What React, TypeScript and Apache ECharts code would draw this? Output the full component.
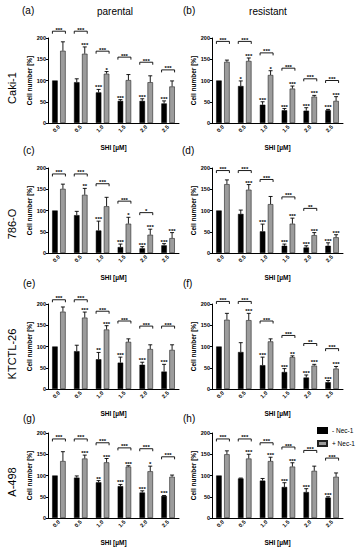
import React, { useEffect, useRef } from "react";
import * as echarts from "echarts";

const doses = ["0.0", "0.5", "1.0", "1.5", "2.0", "2.5"];
const yTickStep = 50;
const yMax = 200;
const seriesNames = ["- Nec-1", "+ Nec-1"];
const columnTitles = ["parental", "resistant"];
const rowTitles = ["Caki-1", "786-O", "KTCTL-26", "A-498"];
const panelLetters = ["(a)", "(b)", "(c)", "(d)", "(e)", "(f)", "(g)", "(h)"];

// (a) Caki-1 parental
const aMinus = [100, 96, 72, 52, 52, 46];
const aMinusErr = [100, 104, 79, 55, 57, 52];
const aPlus = [170, 163, 116, 101, 96, 86];
const aPlusErr = [191, 179, 121, 114, 111, 99];
const aMinusStars = ["", "", "***", "***", "***", "***"];
const aPlusStars = ["", "***", "*", "", "", ""];
const aBracket = [216, 216, 169, 155, 143, 125];
const aBracketStars = ["***", "***", "***", "***", "***", "***"];

// (b) Caki-1 resistant
const bMinus = [100, 87, 43, 30, 29, 30];
const bMinusErr = [100, 99, 50, 34, 36, 32];
const bPlus = [144, 146, 113, 81, 62, 52];
const bPlusErr = [148, 153, 123, 87, 65, 62];
const bMinusStars = ["", "*", "***", "***", "***", "***"];
const bPlusStars = ["", "***", "*", "***", "***", "***"];
const bBracket = [192, 192, 165, 129, 104, 100];
const bBracketStars = ["***", "***", "***", "***", "***", "***"];

// (c) 786-O parental
const cMinus = [100, 89, 53, 14, 11, 18];
const cMinusErr = [100, 98, 75, 21, 15, 22];
const cPlus = [151, 137, 110, 69, 43, 35];
const cPlusErr = [162, 152, 131, 84, 56, 48];
const cMinusStars = ["", "", "***", "***", "***", "***"];
const cPlusStars = ["", "**", "", "*", "***", "***"];
const cBracket = [186, 186, 163, 122, 95, null];
const cBracketStars = ["***", "***", "***", "***", "*", ""];

// (d) 786-O resistant
const dMinus = [100, 92, 51, 17, 13, 17];
const dMinusErr = [100, 101, 68, 21, 17, 24];
const dPlus = [162, 149, 115, 69, 42, 37];
const dPlusErr = [172, 161, 133, 82, 48, 43];
const dMinusStars = ["", "", "***", "***", "***", "***"];
const dPlusStars = ["", "***", "", "***", "***", "***"];
const dBracket = [194, 194, 173, 132, 105, null];
const dBracketStars = ["***", "***", "***", "***", "**", ""];

// (e) KTCTL-26 parental
const eMinus = [100, 89, 70, 62, 57, 41];
const eMinusErr = [100, 103, 86, 75, 63, 58];
const ePlus = [182, 168, 140, 111, 94, 92];
const ePlusErr = [193, 181, 149, 118, 104, 104];
const eMinusStars = ["", "", "**", "***", "***", "***"];
const ePlusStars = ["", "***", "***", "", "", ""];
const eBracket = [210, 210, 183, 160, 148, 148];
const eBracketStars = ["***", "***", "***", "***", "***", "***"];

// (f) KTCTL-26 resistant
const fMinus = [100, 87, 56, 40, 27, 16];
const fMinusErr = [100, 109, 75, 48, 33, 20];
const fPlus = [163, 162, 112, 75, 55, 48];
const fPlusErr = [178, 178, 118, 78, 58, 53];
const fMinusStars = ["", "", "***", "***", "***", "***"];
const fPlusStars = ["", "***", "", "**", "***", "***"];
const fBracket = [206, 206, 160, 126, 107, 95];
const fBracketStars = ["***", "***", "***", "***", "**", "***"];

// (g) A-498 parental
const gMinus = [100, 95, 84, 75, 60, 52];
const gMinusErr = [100, 99, 88, 79, 64, 53];
const gPlus = [134, 140, 131, 121, 110, 97];
const gPlusErr = [156, 148, 140, 123, 122, 101];
const gMinusStars = ["", "", "**", "***", "***", "***"];
const gPlusStars = ["", "***", "***", "***", "*", ""];
const gBracket = [186, 186, 177, 165, 163, 144];
const gBracketStars = ["***", "***", "***", "***", "***", "***"];

// (h) A-498 resistant
const hMinus = [100, 93, 88, 73, 61, 48];
const hMinusErr = [100, 94, 93, 83, 69, 50];
const hPlus = [150, 140, 134, 121, 111, 97];
const hPlusErr = [158, 150, 143, 130, 122, 106];
const hMinusStars = ["", "", "", "***", "***", "***"];
const hPlusStars = ["", "***", "***", "***", "", ""];
const hBracket = [186, 186, 177, 167, 159, 141];
const hBracketStars = ["***", "***", "***", "***", "***", "***"];

type Panel = {
  minus: number[];
  minusErr: number[];
  plus: number[];
  plusErr: number[];
  minusStars: string[];
  plusStars: string[];
  bracket: (number | null)[];
  bracketStars: string[];
};

const panels: Panel[] = [
  { minus: aMinus, minusErr: aMinusErr, plus: aPlus, plusErr: aPlusErr, minusStars: aMinusStars, plusStars: aPlusStars, bracket: aBracket, bracketStars: aBracketStars },
  { minus: bMinus, minusErr: bMinusErr, plus: bPlus, plusErr: bPlusErr, minusStars: bMinusStars, plusStars: bPlusStars, bracket: bBracket, bracketStars: bBracketStars },
  { minus: cMinus, minusErr: cMinusErr, plus: cPlus, plusErr: cPlusErr, minusStars: cMinusStars, plusStars: cPlusStars, bracket: cBracket, bracketStars: cBracketStars },
  { minus: dMinus, minusErr: dMinusErr, plus: dPlus, plusErr: dPlusErr, minusStars: dMinusStars, plusStars: dPlusStars, bracket: dBracket, bracketStars: dBracketStars },
  { minus: eMinus, minusErr: eMinusErr, plus: ePlus, plusErr: ePlusErr, minusStars: eMinusStars, plusStars: ePlusStars, bracket: eBracket, bracketStars: eBracketStars },
  { minus: fMinus, minusErr: fMinusErr, plus: fPlus, plusErr: fPlusErr, minusStars: fMinusStars, plusStars: fPlusStars, bracket: fBracket, bracketStars: fBracketStars },
  { minus: gMinus, minusErr: gMinusErr, plus: gPlus, plusErr: gPlusErr, minusStars: gMinusStars, plusStars: gPlusStars, bracket: gBracket, bracketStars: gBracketStars },
  { minus: hMinus, minusErr: hMinusErr, plus: hPlus, plusErr: hPlusErr, minusStars: hMinusStars, plusStars: hPlusStars, bracket: hBracket, bracketStars: hBracketStars },
];

const FONT = "'Liberation Sans', Arial, sans-serif";
const colLeft = [48, 212];
const rowTop = [38, 168, 304, 433];
const gridW = 131;
const gridH = 85;
const barW = 5.5;
const barOffset = 4;
const grayFill = "#9c9c9c";

function buildOption() {
  const grid: any[] = [];
  const xAxis: any[] = [];
  const yAxis: any[] = [];
  const series: any[] = [];

  panels.forEach((p, i) => {
    grid.push({ left: colLeft[i % 2], top: rowTop[Math.floor(i / 2)], width: gridW, height: gridH });
    xAxis.push({
      type: "category",
      gridIndex: i,
      data: doses,
      name: "SHI [µM]",
      nameLocation: "middle",
      nameGap: 21,
      nameTextStyle: { fontSize: 6.5, fontWeight: "bold", color: "#000", fontFamily: FONT },
      axisLine: { lineStyle: { color: "#000", width: 1 } },
      axisTick: { alignWithLabel: true, length: 2, lineStyle: { color: "#000" } },
      axisLabel: { rotate: 45, interval: 0, fontSize: 5.5, fontWeight: "bold", color: "#000", margin: 3, fontFamily: FONT },
    });
    yAxis.push({
      type: "value",
      gridIndex: i,
      min: 0,
      max: yMax,
      interval: yTickStep,
      name: "Cell number [%]",
      nameLocation: "middle",
      nameGap: 13,
      nameTextStyle: { fontSize: 6.5, fontWeight: "bold", color: "#000", fontFamily: FONT },
      axisLine: { show: true, lineStyle: { color: "#000", width: 1 } },
      axisTick: { show: true, length: 2, lineStyle: { color: "#000" } },
      axisLabel: { fontSize: 5.5, fontWeight: "bold", color: "#000", margin: 2, fontFamily: FONT },
      splitLine: { show: false },
    });

    series.push({
      type: "bar",
      name: seriesNames[0],
      xAxisIndex: i,
      yAxisIndex: i,
      data: p.minus,
      barWidth: barW,
      barGap: "45%",
      itemStyle: { color: "#000", borderColor: "#000", borderWidth: 0.5 },
    });
    series.push({
      type: "bar",
      name: seriesNames[1],
      xAxisIndex: i,
      yAxisIndex: i,
      data: p.plus,
      barWidth: barW,
      barGap: "45%",
      itemStyle: { color: grayFill, borderColor: "#222", borderWidth: 0.6 },
    });

    // error bars
    const errData: number[][] = [];
    p.minus.forEach((v, k) => { if (p.minusErr[k] > v) errData.push([k, v, p.minusErr[k], 0]); });
    p.plus.forEach((v, k) => { if (p.plusErr[k] > v) errData.push([k, v, p.plusErr[k], 1]); });
    series.push({
      type: "custom",
      xAxisIndex: i,
      yAxisIndex: i,
      z: 5,
      clip: false,
      silent: true,
      data: errData,
      renderItem: (params: any, api: any) => {
        const cat = api.value(0), lo = api.value(1), hi = api.value(2), side = api.value(3);
        const p0 = api.coord([cat, lo]);
        const p1 = api.coord([cat, hi]);
        const x = p0[0] + (side === 0 ? -barOffset : barOffset);
        return {
          type: "group",
          children: [
            { type: "line", shape: { x1: x, y1: p0[1], x2: x, y2: p1[1] }, style: { stroke: "#000", lineWidth: 0.9 } },
            { type: "line", shape: { x1: x - 2, y1: p1[1], x2: x + 2, y2: p1[1] }, style: { stroke: "#000", lineWidth: 0.9 } },
          ],
        };
      },
    });

    // stars over bars
    const starData: number[][] = [];
    const starText: string[] = [];
    p.minusStars.forEach((s, k) => { if (s) { starData.push([k, p.minusErr[k], 0]); starText.push(s); } });
    p.plusStars.forEach((s, k) => { if (s) { starData.push([k, p.plusErr[k], 1]); starText.push(s); } });
    series.push({
      type: "custom",
      xAxisIndex: i,
      yAxisIndex: i,
      z: 6,
      clip: false,
      silent: true,
      data: starData,
      renderItem: (params: any, api: any) => {
        const cat = api.value(0), y = api.value(1), side = api.value(2);
        const pt = api.coord([cat, y]);
        const x = pt[0] + (side === 0 ? -barOffset : barOffset);
        return {
          type: "text",
          x,
          y: pt[1] + 1,
          style: {
            text: starText[params.dataIndex],
            fontSize: 6,
            fontWeight: "bold",
            fontFamily: FONT,
            fill: "#000",
            align: "center",
            verticalAlign: "bottom",
          },
        };
      },
    });

    // brackets
    const brData: number[][] = [];
    const brText: string[] = [];
    p.bracket.forEach((b, k) => { if (b != null) { brData.push([k, b]); brText.push(p.bracketStars[k]); } });
    series.push({
      type: "custom",
      xAxisIndex: i,
      yAxisIndex: i,
      z: 6,
      clip: false,
      silent: true,
      data: brData,
      renderItem: (params: any, api: any) => {
        const cat = api.value(0), y = api.value(1);
        const pt = api.coord([cat, y]);
        const x1 = pt[0] - 6.5, x2 = pt[0] + 6.5;
        return {
          type: "group",
          children: [
            {
              type: "polyline",
              shape: { points: [[x1, pt[1] + 2.5], [x1, pt[1]], [x2, pt[1]], [x2, pt[1] + 2.5]] },
              style: { stroke: "#000", lineWidth: 0.9, fill: "none" },
            },
            {
              type: "text",
              x: pt[0],
              y: pt[1] + 1.5,
              style: {
                text: brText[params.dataIndex],
                fontSize: 6,
                fontWeight: "bold",
                fontFamily: FONT,
                fill: "#000",
                align: "center",
                verticalAlign: "bottom",
              },
            },
          ],
        };
      },
    });
  });

  const graphic: any[] = [];
  const letterPos = [
    [22, 10], [183, 10], [23, 150], [182, 150], [23, 283], [183, 283], [23, 418], [183, 418],
  ];
  panelLetters.forEach((t, i) => {
    graphic.push({
      type: "text",
      x: letterPos[i][0],
      y: letterPos[i][1],
      style: { text: t, fontSize: 10, fontFamily: FONT, fill: "#000", align: "left", verticalAlign: "middle" },
    });
  });
  const titleX = [115, 268];
  columnTitles.forEach((t, i) => {
    graphic.push({
      type: "text",
      x: titleX[i],
      y: 11,
      style: { text: t, fontSize: 10, fontFamily: FONT, fill: "#000", align: "center", verticalAlign: "middle" },
    });
  });
  const rowY = [88, 224, 354, 482];
  rowTitles.forEach((t, i) => {
    graphic.push({
      type: "text",
      x: 12,
      y: rowY[i],
      rotation: Math.PI / 2,
      style: { text: t, fontSize: 11, fontFamily: FONT, fill: "#000", align: "center", verticalAlign: "middle" },
    });
  });

  return {
    animation: false,
    backgroundColor: "#fff",
    textStyle: { fontFamily: FONT },
    grid,
    xAxis,
    yAxis,
    series,
    graphic,
    legend: {
      data: seriesNames,
      orient: "vertical",
      left: 317,
      top: 427,
      padding: 0,
      itemWidth: 9,
      itemHeight: 5,
      itemGap: 6,
      icon: "rect",
      textStyle: { fontSize: 6.5, color: "#000", fontFamily: FONT },
      selectedMode: false,
    },
  };
}

export default function App() {
  const ref = useRef<HTMLDivElement>(null);
  useEffect(() => {
    document.body.style.margin = "0";
    if (!ref.current) return;
    const chart = echarts.init(ref.current, undefined, { renderer: "svg" });
    chart.setOption(buildOption() as any);
    return () => chart.dispose();
  }, []);
  return <div ref={ref} style={{ position: "absolute", left: 0, top: 0, width: 360, height: 550 }} />;
}
